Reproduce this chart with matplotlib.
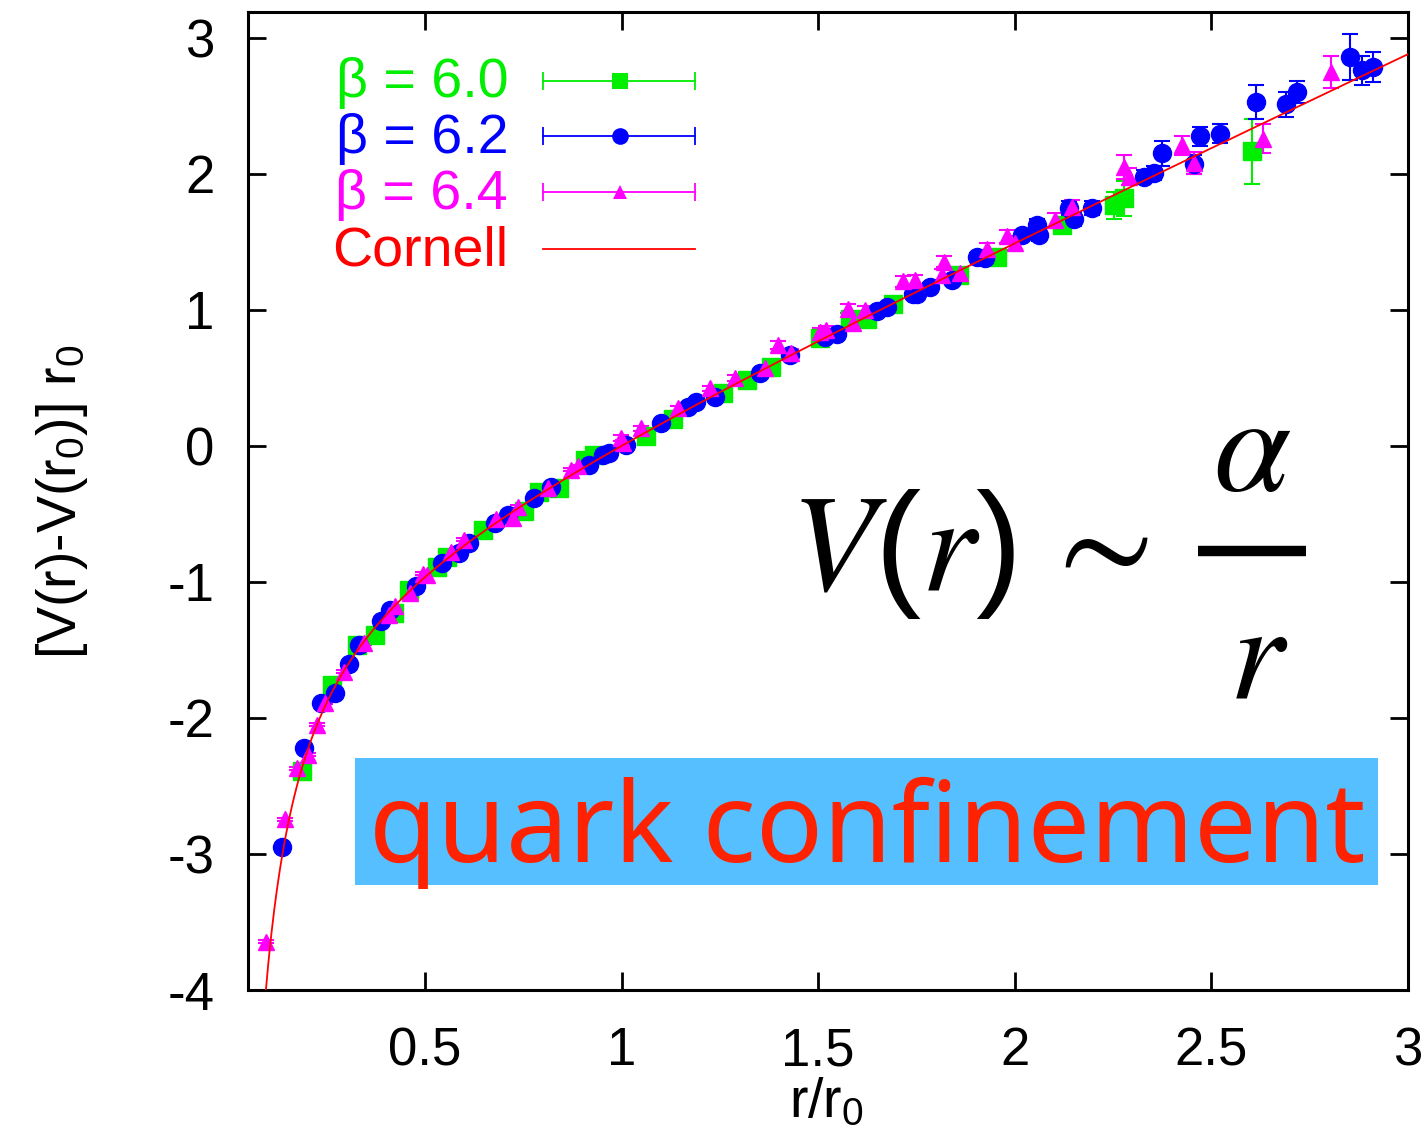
import numpy as np
import matplotlib
matplotlib.use("Agg")
import matplotlib.pyplot as plt
from matplotlib.lines import Line2D
from matplotlib.patches import Rectangle

plt.rcParams['font.family'] = ['Liberation Sans', 'DejaVu Sans']
plt.rcParams['mathtext.fontset'] = 'custom'
plt.rcParams['mathtext.rm'] = 'Liberation Sans'
plt.rcParams['mathtext.it'] = 'Liberation Sans:italic'
plt.rcParams['mathtext.default'] = 'regular'

# ---- static quark potential, r in units of r0 ----
# beta = 6.0
r_b60 = [0.187, 0.264, 0.326, 0.374, 0.421, 0.459, 0.531, 0.556, 0.647, 0.753,
         0.790, 0.842, 0.906, 0.930, 1.063, 1.131, 1.258, 1.318, 1.381, 1.504,
         1.580, 1.623, 1.691, 1.857, 1.954, 2.120, 2.252, 2.277, 2.603]
v_b60 = [-2.39, -1.76, -1.46, -1.39, -1.23, -1.06, -0.89, -0.82, -0.62, -0.48,
         -0.34, -0.31, -0.10, -0.07, 0.07, 0.20, 0.39, 0.485, 0.583, 0.79,
         0.93, 0.93, 1.04, 1.26, 1.39, 1.625, 1.77, 1.82, 2.165]
e_b60 = [0.01, 0.01, 0.01, 0.01, 0.01, 0.01, 0.01, 0.01, 0.01, 0.01,
         0.01, 0.01, 0.01, 0.01, 0.02, 0.02, 0.02, 0.02, 0.02, 0.02,
         0.02, 0.02, 0.02, 0.03, 0.03, 0.04, 0.10, 0.13, 0.24]

# beta = 6.2
r_b62 = [0.136, 0.193, 0.236, 0.272, 0.306, 0.332, 0.387, 0.412, 0.476, 0.544,
         0.587, 0.613, 0.677, 0.710, 0.778, 0.821, 0.918, 0.952, 0.969, 1.012,
         1.101, 1.169, 1.190, 1.237, 1.352, 1.428, 1.517, 1.547, 1.649, 1.674,
         1.742, 1.751, 1.785, 1.840, 1.904, 1.925, 2.018, 2.057, 2.061, 2.137,
         2.150, 2.197, 2.328, 2.354, 2.375, 2.456, 2.471, 2.522, 2.614, 2.689,
         2.717, 2.853, 2.882, 2.910]
v_b62 = [-2.95, -2.22, -1.89, -1.82, -1.60, -1.46, -1.29, -1.21, -1.03, -0.86,
         -0.79, -0.715, -0.57, -0.51, -0.385, -0.30, -0.14, -0.066, -0.054, 0.007,
         0.167, 0.289, 0.326, 0.36, 0.535, 0.67, 0.80, 0.82, 0.99, 1.02,
         1.12, 1.12, 1.17, 1.22, 1.39, 1.38, 1.55, 1.625, 1.55, 1.75,
         1.67, 1.75, 1.98, 2.005, 2.15, 2.07, 2.275, 2.295, 2.53, 2.51,
         2.60, 2.86, 2.76, 2.785]
e_b62 = [0.01, 0.01, 0.01, 0.01, 0.01, 0.01, 0.01, 0.01, 0.01, 0.01,
         0.01, 0.01, 0.01, 0.01, 0.01, 0.01, 0.01, 0.01, 0.01, 0.01,
         0.02, 0.02, 0.02, 0.02, 0.02, 0.02, 0.02, 0.02, 0.03, 0.03,
         0.03, 0.03, 0.03, 0.03, 0.03, 0.03, 0.04, 0.04, 0.04, 0.05,
         0.05, 0.05, 0.05, 0.05, 0.09, 0.07, 0.07, 0.07, 0.125, 0.09,
         0.08, 0.17, 0.11, 0.11]

# beta = 6.4
r_b64 = [0.096, 0.143, 0.175, 0.203, 0.225, 0.246, 0.293, 0.344, 0.408, 0.425,
         0.463, 0.494, 0.506, 0.566, 0.600, 0.681, 0.723, 0.736, 0.812, 0.872,
         0.889, 0.999, 1.003, 1.050, 1.143, 1.224, 1.288, 1.364, 1.398, 1.432,
         1.504, 1.521, 1.576, 1.589, 1.618, 1.717, 1.747, 1.815, 1.819, 1.861,
         1.929, 1.980, 2.001, 2.103, 2.146, 2.277, 2.290, 2.426, 2.456, 2.630,
         2.804]
v_b64 = [-3.645, -2.745, -2.37, -2.27, -2.05, -1.89, -1.66, -1.45, -1.24, -1.18,
         -1.08, -0.94, -0.95, -0.78, -0.69, -0.54, -0.53, -0.446, -0.31, -0.176,
         -0.15, 0.057, 0.02, 0.13, 0.277, 0.424, 0.50, 0.57, 0.743, 0.68,
         0.84, 0.853, 1.01, 0.90, 1.00, 1.21, 1.22, 1.26, 1.355, 1.27,
         1.45, 1.54, 1.49, 1.66, 1.76, 2.05, 1.98, 2.21, 2.08, 2.26,
         2.75]
e_b64 = [0.01, 0.01, 0.01, 0.01, 0.01, 0.01, 0.01, 0.01, 0.01, 0.01,
         0.01, 0.01, 0.01, 0.01, 0.01, 0.01, 0.01, 0.01, 0.01, 0.01,
         0.01, 0.02, 0.02, 0.02, 0.02, 0.02, 0.02, 0.02, 0.03, 0.03,
         0.03, 0.03, 0.03, 0.03, 0.03, 0.04, 0.04, 0.04, 0.04, 0.04,
         0.04, 0.05, 0.05, 0.05, 0.05, 0.086, 0.06, 0.07, 0.08, 0.11,
         0.12]

# Cornell fit parameters: (V(r)-V(r0)) r0 = -alpha (r0/r - 1) + sigma r0^2 (r/r0 - 1)
CORNELL_ALPHA = 0.294
CORNELL_SIGMA = 1.342

legend_labels = ["\u03b2 = 6.0", "\u03b2 = 6.2", "\u03b2 = 6.4", "Cornell"]
x_ticks = [0.5, 1, 1.5, 2, 2.5, 3]
x_tick_labels = ["0.5", "1", "1.5", "2", "2.5", "3"]
y_ticks = [-4, -3, -2, -1, 0, 1, 2, 3]
y_tick_labels = ["-4", "-3", "-2", "-1", "0", "1", "2", "3"]

GREEN = "#00ee00"
BLUE = "#0000ff"
MAGENTA = "#ff00ff"
RED = "#ff0000"

W, H = 1424, 1136
fig = plt.figure(figsize=(W / 100, H / 100), dpi=100)
fig.patch.set_facecolor("white")


def fx(px):
    return px / W


def fy(py):
    return 1 - py / H


ax = fig.add_axes([fx(248), fy(990), fx(1408) - fx(248), fy(12) - fy(990)])

series = [
    (r_b60, v_b60, e_b60, GREEN, "s", 12.5),
    (r_b62, v_b62, e_b62, BLUE, "o", 13),
    (r_b64, v_b64, e_b64, MAGENTA, "^", 11.5),
]
for xs, ys, es, col, mk, ms in series:
    ax.errorbar(xs, ys, yerr=es, fmt=mk, color=col, ms=ms, mec=col,
                elinewidth=1.5, capsize=6, capthick=1.5, zorder=3)

xc = np.linspace(0.05, 3.0, 800)
yc = -CORNELL_ALPHA * (1.0 / xc - 1.0) + CORNELL_SIGMA * (xc - 1.0)
ax.plot(xc, yc, color=RED, lw=1.3, zorder=5)

ax.set_xlim(0.05, 3.0)
ax.set_ylim(-4.0, 3.19)
ax.set_xticks(x_ticks)
ax.set_xticklabels(x_tick_labels)
ax.set_yticks(y_ticks)
ax.set_yticklabels(y_tick_labels)
ax.tick_params(direction="in", length=13, width=2, top=True, right=True,
               labelsize=38, colors="black")
ax.tick_params(axis="x", pad=26)
ax.tick_params(axis="y", pad=24)
for sp in ax.spines.values():
    sp.set_linewidth(2.2)

# axis titles
fig.text(fx(827), fy(1117), "r/r$_0$", fontsize=40, ha="center", va="baseline")
fig.text(fx(62), fy(502), "[V(r)-V(r$_0$)] r$_0$", fontsize=40, rotation=90,
         ha="center", va="center")

# key: label on the left, sample with end caps on the right


def ax_x(px):
    return (px - 248) / 1160


def ax_y(py):
    return (990 - py) / 978


key_rows = [
    (legend_labels[0], GREEN, "s", 12, 97, 81),
    (legend_labels[1], BLUE, "o", 12, 153, 136),
    (legend_labels[2], MAGENTA, "^", 10, 209, 192),
    (legend_labels[3], RED, None, 0, 266, 249),
]
for lab, col, mk, ms, base, ly in key_rows:
    ax.text(ax_x(508), ax_y(base), lab, color=col, fontsize=40, ha="right",
            va="baseline", transform=ax.transAxes)
    ax.add_line(Line2D([ax_x(543), ax_x(695)], [ax_y(ly), ax_y(ly)],
                       color=col, lw=1.3, transform=ax.transAxes))
    if mk is not None:
        ax.add_line(Line2D([ax_x(543), ax_x(695)], [ax_y(ly), ax_y(ly)],
                           ls="none", marker="|", ms=13, mew=1.3, color=col,
                           transform=ax.transAxes))
        ax.add_line(Line2D([ax_x(620)], [ax_y(ly)], ls="none", marker=mk,
                           ms=ms, mew=0, color=col, transform=ax.transAxes))

# formula
fig.text(fx(790), fy(590), r"$\mathit{V}(\mathit{r})$", fontsize=100,
         math_fontfamily="stix", ha="left", va="baseline")
fig.text(fx(1093), fy(551), r"$\sim$", fontsize=100, math_fontfamily="stix",
         ha="center", va="center")
fig.text(fx(1252), fy(490), "\u03b1", fontsize=100, family="STIXGeneral",
         style="italic", ha="center", va="baseline")
fig.text(fx(1257), fy(698), "r", fontsize=100, family="STIXGeneral",
         style="italic", ha="center", va="baseline")
fig.add_artist(Line2D([fx(1198), fx(1306)], [fy(551), fy(551)], color="black",
                      lw=7.5, solid_capstyle="butt"))

# banner
fig.add_artist(Rectangle((fx(355), fy(885)), fx(1378) - fx(355), fy(758) - fy(885),
                         facecolor="#55bfff", edgecolor="none"))
fig.text(fx(867), fy(862), "quark confinement", fontsize=80, family="Noto Sans",
         color="#ff2200", ha="center", va="baseline")

fig.savefig("out.png", dpi=100, facecolor="white")
